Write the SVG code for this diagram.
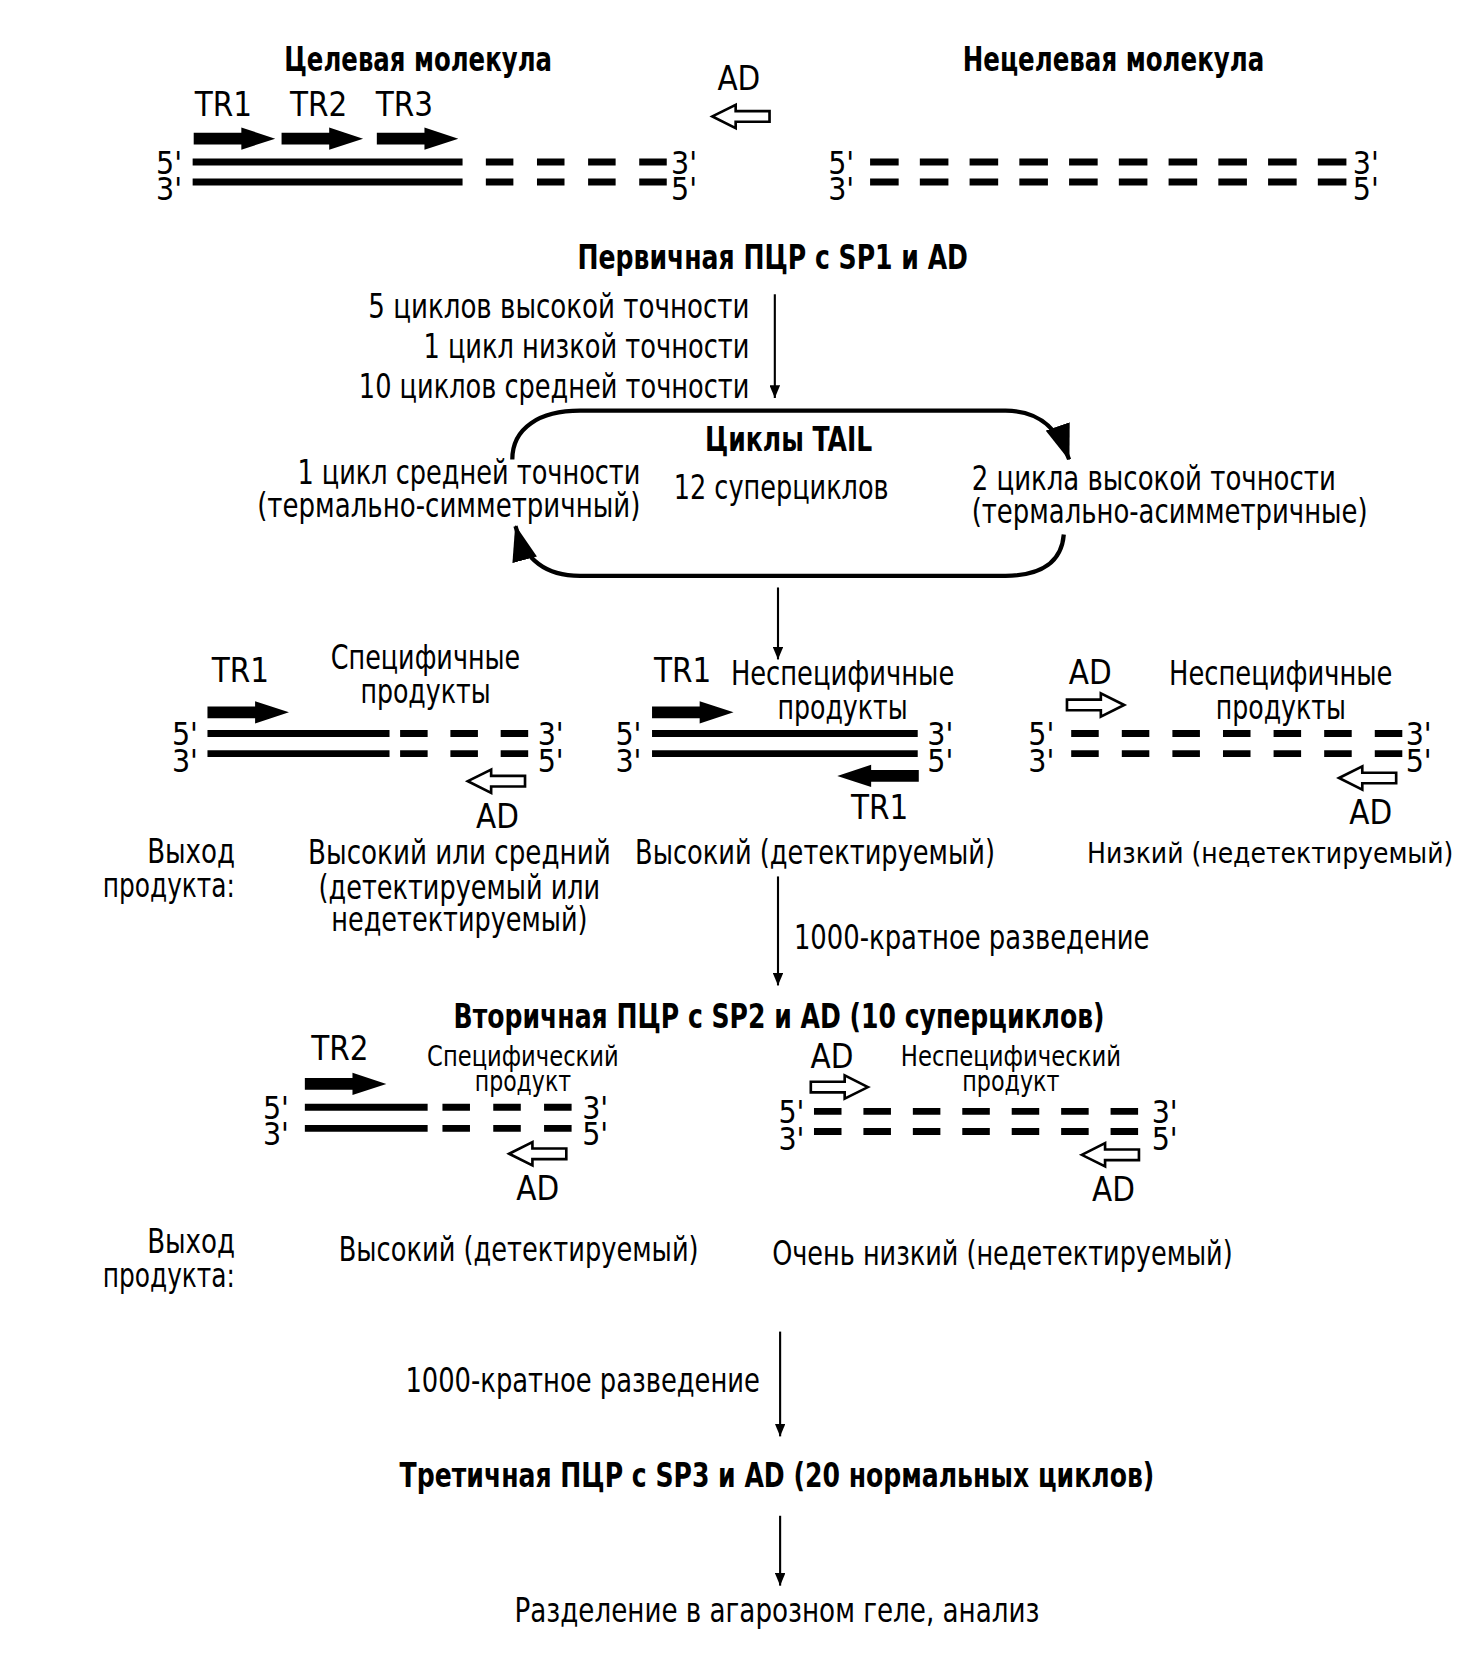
<svg xmlns="http://www.w3.org/2000/svg" xmlns:xlink="http://www.w3.org/1999/xlink" width="1474" height="1658" viewBox="0 0 1474 1658">
<style>
.t{font-family:"Liberation Sans Narrow","DejaVu Sans Condensed","Liberation Sans",sans-serif;font-size:31px;fill:#000}
.b{font-weight:bold}
.s{font-size:27px}
.e{font-size:30px}
.m{text-anchor:middle}
.r{text-anchor:end}
.strand{stroke:#000;stroke-width:6.5;fill:none}
.conn{stroke:#000;stroke-width:2;fill:none}
.loop{stroke:#000;stroke-width:4;fill:none}
.solid{fill:#000}
.hollow{fill:#fff;stroke:#000;stroke-width:2.5;stroke-linejoin:miter}
</style>
<defs>
<path id="fwd" d="M0,-5.5 H45 V-10.5 L77,0 L45,10.5 V5.5 H0 Z"/>
<path id="hl" d="M0,0 L22,-11 V-5 H54 V5 H22 V11 Z"/>
<marker id="ah" viewBox="0 0 12 10" refX="12" refY="5" markerWidth="12" markerHeight="10" markerUnits="userSpaceOnUse" orient="auto"><path d="M0,0 L12,5 L0,10 Z" fill="#000"/></marker>
<marker id="big" viewBox="0 0 34 24" refX="33" refY="12" markerWidth="34" markerHeight="24" markerUnits="userSpaceOnUse" orient="auto"><path d="M0,0 L34,12 L0,24 Z" fill="#000"/></marker>
</defs>
<rect width="1474" height="1658" fill="#fff"/>
<g transform="scale(1.0585)">

<g id="target">
<text class="t b m" x="395" y="67" textLength="253" lengthAdjust="spacingAndGlyphs">Целевая молекула</text>
<text class="t m" x="211" y="110">TR1</text>
<text class="t m" x="301" y="110">TR2</text>
<text class="t m" x="382" y="110">TR3</text>
<use href="#fwd" class="solid" transform="translate(183,131)"/>
<use href="#fwd" class="solid" transform="translate(266,131)"/>
<use href="#fwd" class="solid" transform="translate(356,131)"/>
<line class="strand" x1="182" y1="153" x2="437" y2="153"/>
<line class="strand" x1="182" y1="172" x2="437" y2="172"/>
<line class="strand" x1="459" y1="153" x2="630" y2="153" stroke-dasharray="26 22.3"/>
<line class="strand" x1="459" y1="172" x2="630" y2="172" stroke-dasharray="26 22.3"/>
<text class="t e r"><tspan x="172" y="164">5'</tspan><tspan x="172" y="189">3'</tspan></text>
<text class="t e"><tspan x="634" y="164">3'</tspan><tspan x="634" y="189">5'</tspan></text>
</g>

<g id="ad-top">
<text class="t m" x="698" y="85">AD</text>
<use href="#hl" class="hollow" transform="translate(673,110)"/>
</g>

<g id="nontarget">
<text class="t b m" x="1052" y="67" textLength="285" lengthAdjust="spacingAndGlyphs">Нецелевая молекула</text>
<line class="strand" x1="822" y1="153" x2="1272" y2="153" stroke-dasharray="27 20"/>
<line class="strand" x1="822" y1="172" x2="1272" y2="172" stroke-dasharray="27 20"/>
<text class="t e r"><tspan x="807" y="164">5'</tspan><tspan x="807" y="189">3'</tspan></text>
<text class="t e"><tspan x="1278" y="164">3'</tspan><tspan x="1278" y="189">5'</tspan></text>
</g>

<g id="primary">
<text class="t b m" x="730" y="254" textLength="369" lengthAdjust="spacingAndGlyphs">Первичная ПЦР с SP1 и AD</text>
<text class="t r"><tspan x="708" y="300" textLength="360" lengthAdjust="spacingAndGlyphs">5 циклов высокой точности</tspan><tspan x="708" y="338" textLength="308" lengthAdjust="spacingAndGlyphs">1 цикл низкой точности</tspan><tspan x="708" y="376" textLength="369" lengthAdjust="spacingAndGlyphs">10 циклов средней точности</tspan></text>
</g>

<g id="tail">
<text class="t b m" x="745" y="426" textLength="158" lengthAdjust="spacingAndGlyphs">Циклы TAIL</text>
<text class="t m" x="738" y="471" textLength="203" lengthAdjust="spacingAndGlyphs">12 суперциклов</text>
<text class="t r"><tspan x="605" y="457" textLength="324" lengthAdjust="spacingAndGlyphs">1 цикл средней точности</tspan><tspan x="605" y="488" textLength="362" lengthAdjust="spacingAndGlyphs">(термально-симметричный)</tspan></text>
<text class="t"><tspan x="918" y="463" textLength="344" lengthAdjust="spacingAndGlyphs">2 цикла высокой точности</tspan><tspan x="918" y="494" textLength="374" lengthAdjust="spacingAndGlyphs">(термально-асимметричные)</tspan></text>
</g>

<g id="spec1">
<text class="t m" x="227" y="644">TR1</text>
<text class="t m"><tspan x="402" y="632" textLength="179" lengthAdjust="spacingAndGlyphs">Специфичные</tspan><tspan x="402" y="664" textLength="123" lengthAdjust="spacingAndGlyphs">продукты</tspan></text>
<use href="#fwd" class="solid" transform="translate(196,673)"/>
<line class="strand" x1="196" y1="693" x2="368" y2="693"/>
<line class="strand" x1="196" y1="712" x2="368" y2="712"/>
<line class="strand" x1="378" y1="693" x2="499" y2="693" stroke-dasharray="26 21.5"/>
<line class="strand" x1="378" y1="712" x2="499" y2="712" stroke-dasharray="26 21.5"/>
<text class="t e r"><tspan x="187" y="704">5'</tspan><tspan x="187" y="729">3'</tspan></text>
<text class="t e"><tspan x="508" y="704">3'</tspan><tspan x="508" y="729">5'</tspan></text>
<use href="#hl" class="hollow" transform="translate(442,738)"/>
<text class="t m" x="470" y="782">AD</text>
</g>

<g id="nonspec1a">
<text class="t m" x="645" y="644">TR1</text>
<text class="t m"><tspan x="796" y="647" textLength="211" lengthAdjust="spacingAndGlyphs">Неспецифичные</tspan><tspan x="796" y="679" textLength="123" lengthAdjust="spacingAndGlyphs">продукты</tspan></text>
<use href="#fwd" class="solid" transform="translate(616,673)"/>
<line class="strand" x1="616" y1="693" x2="867" y2="693"/>
<line class="strand" x1="616" y1="712" x2="867" y2="712"/>
<text class="t e r"><tspan x="606" y="704">5'</tspan><tspan x="606" y="729">3'</tspan></text>
<text class="t e"><tspan x="876" y="704">3'</tspan><tspan x="876" y="729">5'</tspan></text>
<use href="#fwd" class="solid" transform="translate(868,733) scale(-1,1)"/>
<text class="t m" x="831" y="774">TR1</text>
</g>

<g id="nonspec1b">
<text class="t m" x="1030" y="646">AD</text>
<use href="#hl" class="hollow" transform="translate(1062,666) scale(-1,1)"/>
<text class="t m"><tspan x="1210" y="647" textLength="211" lengthAdjust="spacingAndGlyphs">Неспецифичные</tspan><tspan x="1210" y="679" textLength="123" lengthAdjust="spacingAndGlyphs">продукты</tspan></text>
<line class="strand" x1="1012" y1="693" x2="1325" y2="693" stroke-dasharray="26 21.8"/>
<line class="strand" x1="1012" y1="712" x2="1325" y2="712" stroke-dasharray="26 21.8"/>
<text class="t e r"><tspan x="996" y="704">5'</tspan><tspan x="996" y="729">3'</tspan></text>
<text class="t e"><tspan x="1328" y="704">3'</tspan><tspan x="1328" y="729">5'</tspan></text>
<use href="#hl" class="hollow" transform="translate(1265,735)"/>
<text class="t m" x="1295" y="778">AD</text>
</g>

<g id="yield1">
<text class="t r"><tspan x="222" y="815" textLength="83" lengthAdjust="spacingAndGlyphs">Выход</tspan><tspan x="222" y="847" textLength="125" lengthAdjust="spacingAndGlyphs">продукта:</tspan></text>
<text class="t m"><tspan x="434" y="816" textLength="286" lengthAdjust="spacingAndGlyphs">Высокий или средний</tspan><tspan x="434" y="849" textLength="266" lengthAdjust="spacingAndGlyphs">(детектируемый или</tspan><tspan x="434" y="880" textLength="242" lengthAdjust="spacingAndGlyphs">недетектируемый)</tspan></text>
<text class="t m" x="770" y="816" textLength="340" lengthAdjust="spacingAndGlyphs">Высокий (детектируемый)</text>
<text class="t m" x="1200" y="815" style="font-size:27px" textLength="346" lengthAdjust="spacingAndGlyphs">Низкий (недетектируемый)</text>
</g>

<g id="dil1">
<text class="t" x="750" y="897" textLength="336" lengthAdjust="spacingAndGlyphs">1000-кратное разведение</text>
</g>

<g id="secondary">
<text class="t b m" x="736" y="971" textLength="615" lengthAdjust="spacingAndGlyphs">Вторичная ПЦР с SP2 и AD (10 суперциклов)</text>
</g>

<g id="spec2">
<text class="t m" x="321" y="1001">TR2</text>
<text class="t s m"><tspan x="494" y="1007" textLength="181" lengthAdjust="spacingAndGlyphs">Специфический</tspan><tspan x="494" y="1031" textLength="91" lengthAdjust="spacingAndGlyphs">продукт</tspan></text>
<use href="#fwd" class="solid" transform="translate(288,1024)"/>
<line class="strand" x1="288" y1="1046" x2="404" y2="1046"/>
<line class="strand" x1="288" y1="1066" x2="404" y2="1066"/>
<line class="strand" x1="418" y1="1046" x2="540" y2="1046" stroke-dasharray="26 22"/>
<line class="strand" x1="418" y1="1066" x2="540" y2="1066" stroke-dasharray="26 22"/>
<text class="t e r"><tspan x="273" y="1057">5'</tspan><tspan x="273" y="1082">3'</tspan></text>
<text class="t e"><tspan x="550" y="1057">3'</tspan><tspan x="550" y="1082">5'</tspan></text>
<use href="#hl" class="hollow" transform="translate(481,1090)"/>
<text class="t m" x="508" y="1134">AD</text>
</g>

<g id="nonspec2">
<text class="t m" x="786" y="1009">AD</text>
<use href="#hl" class="hollow" transform="translate(820,1027) scale(-1,1)"/>
<text class="t s m"><tspan x="955" y="1007" textLength="208" lengthAdjust="spacingAndGlyphs">Неспецифический</tspan><tspan x="955" y="1031" textLength="92" lengthAdjust="spacingAndGlyphs">продукт</tspan></text>
<line class="strand" x1="769" y1="1050" x2="1076" y2="1050" stroke-dasharray="26 20.7"/>
<line class="strand" x1="769" y1="1069" x2="1076" y2="1069" stroke-dasharray="26 20.7"/>
<text class="t e r"><tspan x="760" y="1061">5'</tspan><tspan x="760" y="1086">3'</tspan></text>
<text class="t e"><tspan x="1088" y="1061">3'</tspan><tspan x="1088" y="1086">5'</tspan></text>
<use href="#hl" class="hollow" transform="translate(1022,1091)"/>
<text class="t m" x="1052" y="1135">AD</text>
</g>

<g id="yield2">
<text class="t r"><tspan x="222" y="1184" textLength="83" lengthAdjust="spacingAndGlyphs">Выход</tspan><tspan x="222" y="1216" textLength="125" lengthAdjust="spacingAndGlyphs">продукта:</tspan></text>
<text class="t m" x="490" y="1191" textLength="340" lengthAdjust="spacingAndGlyphs">Высокий (детектируемый)</text>
<text class="t m" x="947" y="1195" textLength="435" lengthAdjust="spacingAndGlyphs">Очень низкий (недетектируемый)</text>
</g>

<g id="dil2">
<text class="t r" x="718" y="1315" textLength="335" lengthAdjust="spacingAndGlyphs">1000-кратное разведение</text>
</g>

<g id="tertiary">
<text class="t b m" x="734" y="1405" textLength="713" lengthAdjust="spacingAndGlyphs">Третичная ПЦР с SP3 и AD (20 нормальных циклов)</text>
</g>

<g id="gel">
<text class="t m" x="734" y="1532" textLength="496" lengthAdjust="spacingAndGlyphs">Разделение в агарозном геле, анализ</text>
</g>

<g id="connectors">
<line class="conn" x1="732" y1="278" x2="732" y2="376" marker-end="url(#ah)"/>
<path class="loop" d="M484,434 C484,404 510,388 548,388 L950,388 C982,388 1000,405 1010,434" marker-end="url(#big)"/>
<path class="loop" d="M1005,505 C1003,530 985,544 950,544 L548,544 C516,544 496,530 487,497" marker-end="url(#big)"/>
<line class="conn" x1="735" y1="555" x2="735" y2="623" marker-end="url(#ah)"/>
<line class="conn" x1="735" y1="828" x2="735" y2="931" marker-end="url(#ah)"/>
<line class="conn" x1="737" y1="1258" x2="737" y2="1357" marker-end="url(#ah)"/>
<line class="conn" x1="737" y1="1432" x2="737" y2="1498" marker-end="url(#ah)"/>
</g>

</g>
</svg>
